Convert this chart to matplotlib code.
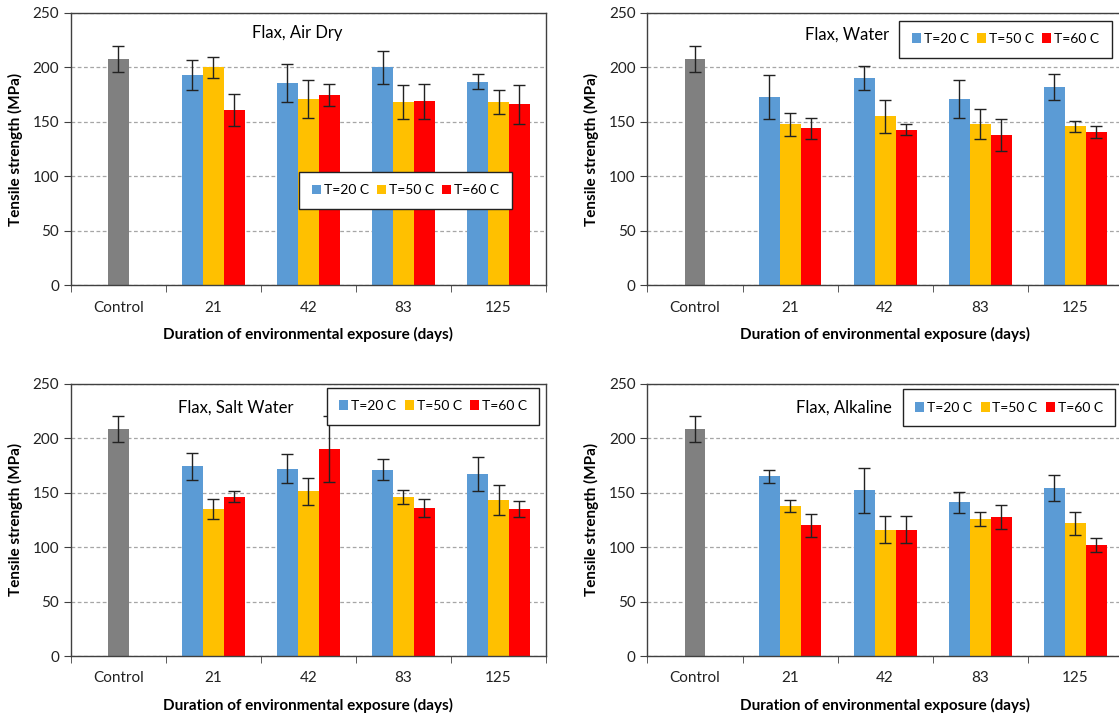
import matplotlib.pyplot as plt
import numpy as np

categories = ["Control", "21", "42", "83", "125"]
temps = ["T=20 C", "T=50 C", "T=60 C"]

control_mean = 208
control_err = 12

# panel titles
titles = ["Flax, Air Dry", "Flax, Water", "Flax, Salt Water", "Flax, Alkaline"]

# means per temperature for 21, 42, 83, 125 days
air_dry = [[193, 186, 200, 187], [200, 171, 168, 168], [161, 175, 169, 166]]
air_dry_err = [[13.5, 17.5, 15, 6.5], [9.5, 17.5, 15.5, 11], [15, 10, 16, 18]]

water = [[173, 190, 171, 182], [148, 155, 148, 146], [144, 143, 138, 141]]
water_err = [[20, 11, 17, 12], [10.5, 15, 13.5, 5], [9.5, 5, 15, 5.5]]

salt_water = [[174, 172, 171, 167], [135, 151, 146, 143], [146, 190, 136, 135]]
salt_water_err = [[12.5, 13, 9.5, 15.5], [9, 12.5, 6.5, 13.5], [5, 30, 8.5, 7.5]]

alkaline = [[165, 152, 141, 154], [138, 116, 126, 122], [120, 116, 128, 102]]
alkaline_err = [[6, 21, 9.5, 12], [5.5, 12.5, 6.5, 10.5], [10.5, 12.5, 11, 6.5]]

colors = ["#5B9BD5", "#FFC000", "#FF0000"]
control_color = "#808080"

# data, errors, axes origin, title pos, legend upper-right corner (axes fraction)
panels = [
    (air_dry, air_dry_err, (0.0632, 0.602), (0.476, 0.927), (0.928, 0.417)),
    (water, water_err, (0.5786, 0.602), (0.42, 0.92), (0.977, 0.972)),
    (salt_water, salt_water_err, (0.0632, 0.085), (0.347, 0.912), (0.986, 0.985)),
    (alkaline, alkaline_err, (0.5786, 0.085), (0.414, 0.912), (0.984, 0.98)),
]

plt.rcParams['font.family'] = ['Lato', 'DejaVu Sans']

fig = plt.figure(figsize=(11.19, 7.17), dpi=100)

w = 0.22
for title, (vals, errs, pos, tpos, lpos) in zip(titles, panels):
    ax = fig.add_axes([pos[0], pos[1], 0.4248, 0.38])
    ax.set_axisbelow(True)
    ax.yaxis.grid(True, linestyle=(0, (3, 2)), color="#A6A6A6", linewidth=0.9)

    ax.bar(0, control_mean, width=w, color=control_color, zorder=2)
    ax.errorbar(0, control_mean, yerr=control_err, fmt="none", ecolor="#222222",
                elinewidth=1, capsize=4, capthick=1, zorder=3)

    x = np.arange(1, len(categories))
    handles = []
    for k in range(3):
        xs = x + (k - 1) * w
        b = ax.bar(xs, vals[k], width=w, color=colors[k], label=temps[k], zorder=2)
        handles.append(b)
        ax.errorbar(xs, vals[k], yerr=errs[k], fmt="none", ecolor="#222222",
                    elinewidth=1, capsize=4, capthick=1, zorder=3)

    ax.set_xlim(-0.5, len(categories) - 0.5)
    ax.set_ylim(0, 250)
    ax.set_yticks(range(0, 251, 50))
    ax.set_xticks(range(len(categories)))
    ax.set_xticklabels(categories)
    ax.set_xticks(np.arange(-0.5, len(categories), 1.0), minor=True)
    ax.tick_params(axis="x", which="major", length=0, pad=11, labelsize=11, colors="#222222")
    ax.tick_params(axis="x", which="minor", length=5, direction="out", color="#404040")
    ax.tick_params(axis="y", length=5, direction="out", labelsize=11, colors="#222222",
                   color="#404040")
    for s in ax.spines.values():
        s.set_color("#404040")
        s.set_linewidth(1)

    ax.set_ylabel("Tensile strength (MPa)", fontsize=11, fontweight="bold", labelpad=7)
    ax.set_xlabel("Duration of environmental exposure (days)", fontsize=11,
                  fontweight="bold", labelpad=9)

    ax.text(tpos[0], tpos[1], title, transform=ax.transAxes, ha="center", va="center",
            fontsize=12)

    leg = ax.legend(handles=handles, loc="upper right", bbox_to_anchor=lpos, ncol=3,
                    fontsize=10, frameon=True, fancybox=False, edgecolor="#222222",
                    handlelength=0.65, handleheight=0.7, handletextpad=0.2,
                    columnspacing=0.6, borderpad=0.9, borderaxespad=0, framealpha=1)
    leg.get_frame().set_linewidth(1)

fig.savefig("out.png", dpi=100)
